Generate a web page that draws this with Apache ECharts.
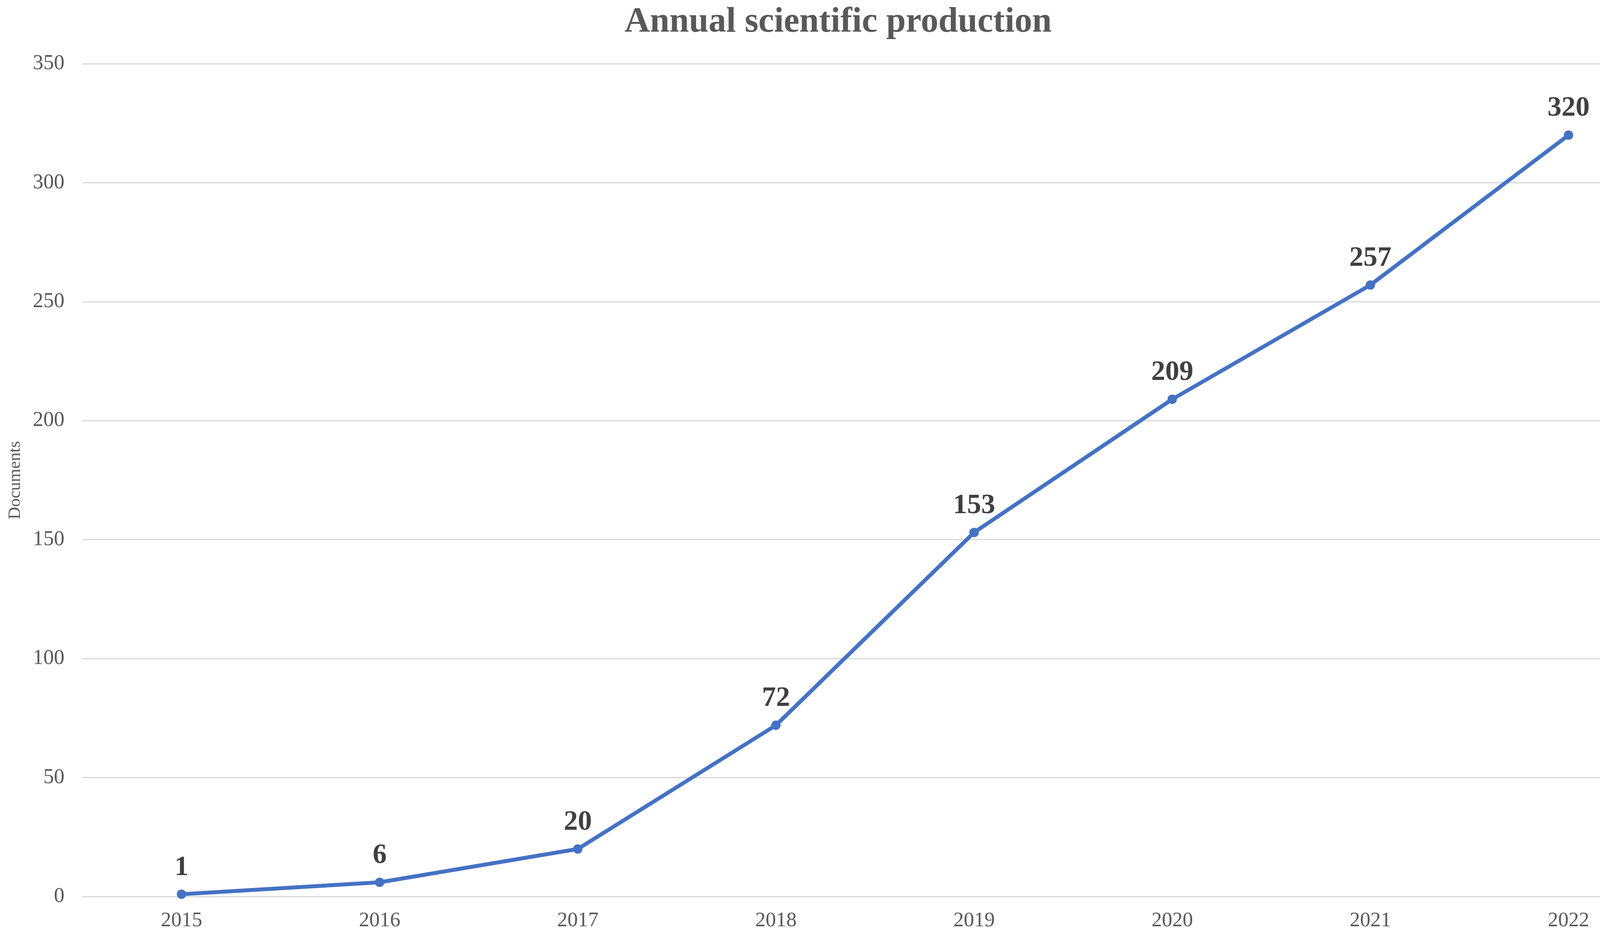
<!DOCTYPE html>
<html>
<head>
<meta charset="utf-8">
<script src="https://cdn.jsdelivr.net/npm/echarts@6/dist/echarts.min.js"></script>
<style>
html,body{margin:0;padding:0;background:#fff;}
#chart{width:4291px;height:2400px;}
</style>
</head>
<body>
<div id="chart"></div>
<script>
const titleText = "Annual scientific production";
const yAxisName = "Documents";
const years = ["2015","2016","2017","2018","2019","2020","2021","2022"];
const documents = [1, 6, 20, 72, 153, 209, 257, 320];
const yMin = 0, yMax = 350, yStep = 50;

const FONT = "'Liberation Serif', 'Times New Roman', serif";
const chart = echarts.init(document.getElementById('chart'));
chart.setOption({
  backgroundColor: '#ffffff',
  animation: false,
  title: {
    text: titleText,
    left: 'center',
    top: 8,
    textStyle: {fontFamily: FONT, fontWeight: 'bold', fontSize: 90, color: '#595959'}
  },
  grid: {left: 211, right: 22, top: 163, bottom: 106, containLabel: false},
  xAxis: {
    type: 'category',
    data: years,
    boundaryGap: true,
    axisLine: {show: true, lineStyle: {color: '#d9d9d9', width: 3}},
    axisTick: {show: false},
    axisLabel: {fontFamily: FONT, fontSize: 53, color: '#595959', margin: 36}
  },
  yAxis: {
    type: 'value',
    min: yMin, max: yMax, interval: yStep,
    name: yAxisName,
    nameLocation: 'middle',
    nameGap: 150,
    nameTextStyle: {fontFamily: FONT, fontSize: 44, color: '#595959'},
    axisLine: {show: false},
    axisTick: {show: false},
    splitLine: {lineStyle: {color: '#d9d9d9', width: 3}},
    axisLabel: {fontFamily: FONT, fontSize: 54, color: '#595959', margin: 46}
  },
  series: [{
    type: 'line',
    data: documents,
    symbol: 'circle',
    symbolSize: 24,
    lineStyle: {color: '#4472C4', width: 10},
    itemStyle: {color: '#4472C4'},
    label: {
      show: true,
      position: 'top',
      distance: 20,
      fontFamily: FONT,
      fontWeight: 'bold',
      fontSize: 72,
      color: '#404040'
    }
  }]
});
</script>
</body>
</html>
